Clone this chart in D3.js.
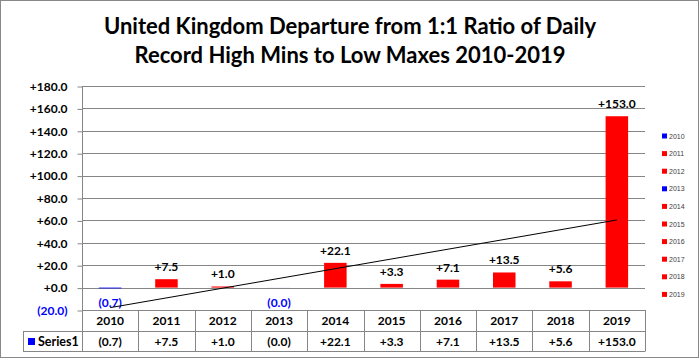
<!DOCTYPE html>
<html><head><meta charset="utf-8">
<script src="https://cdn.jsdelivr.net/npm/d3@7"></script>
<style>html,body{margin:0;padding:0;background:#fff;}svg{display:block;}</style>
</head><body>
<svg id="chart" width="700" height="359"></svg>
<script>
const categories = ["2010","2011","2012","2013","2014","2015","2016","2017","2018","2019"];
const values = [-0.7, 7.5, 1.0, -0.04, 22.1, 3.3, 7.1, 13.5, 5.6, 153.0];
const yTicks = [-20, 0, 20, 40, 60, 80, 100, 120, 140, 160, 180];
const seriesName = "Series1";
const titleLines = ["United Kingdom Departure from 1:1 Ratio of Daily", "Record High Mins to Low Maxes 2010-2019"];

(function(){
const RED = "#FF0000", BLUE = "#0000FF", GRID = "#868686";
const fmt = v => (v < 0 ? "(" + Math.abs(v).toFixed(1) + ")" : "+" + v.toFixed(1));
const isNeg = v => v < 0;
const FONT = "Lato, 'Open Sans', sans-serif";

const svg = d3.select("#chart");
svg.append("rect").attr("x",0.5).attr("y",0.5).attr("width",698).attr("height",357)
  .attr("fill","#fff").attr("stroke","#888").attr("stroke-width",1);

// Title
svg.append("g").selectAll("text").data(titleLines).join("text")
  .attr("x", 350).attr("y", (d,i) => 33.5 + i*29.5)
  .attr("text-anchor","middle").attr("font-family",FONT).attr("font-weight","bold")
  .attr("font-size",22).attr("fill","#000").text(d => d);

const pL = 82, pR = 645, pT = 86, pB = 310;
const x = d3.scaleBand().domain(categories).range([pL, pR]).padding(0);
const y = d3.scaleLinear().domain([-20, 180]).range([pB, pT]);

// gridlines
svg.append("g").selectAll("line").data(yTicks).join("line")
  .attr("x1", pL).attr("x2", pR)
  .attr("y1", d => Math.round(y(d)) + 0.5).attr("y2", d => Math.round(y(d)) + 0.5)
  .attr("stroke", GRID).attr("stroke-width", 1);

// y axis
const yAxis = d3.axisLeft(y).tickValues(yTicks).tickSize(5).tickPadding(10).tickFormat(fmt);
const gy = svg.append("g").attr("transform", `translate(${pL + 0.5},0.5)`).call(yAxis);
gy.select(".domain").attr("stroke", GRID).attr("d", `M0,${pT}V${pB + 41}`);
gy.selectAll(".tick line").attr("stroke", GRID);
gy.selectAll(".tick text").attr("font-family", FONT).attr("font-weight", "bold").attr("font-size", 12)
  .attr("fill", d => isNeg(d) ? BLUE : "#000");

// bars
const bw = x.bandwidth() * 0.4;
svg.append("g").selectAll("rect").data(categories).join("rect")
  .attr("x", d => x(d) + (x.bandwidth() - bw) / 2)
  .attr("width", bw)
  .attr("y", (d,i) => Math.min(y(values[i]), y(0)))
  .attr("height", (d,i) => Math.abs(y(values[i]) - y(0)))
  .attr("fill", (d,i) => isNeg(values[i]) ? BLUE : RED);

// data labels
svg.append("g").selectAll("text").data(categories).join("text")
  .attr("x", d => x(d) + x.bandwidth()/2)
  .attr("y", (d,i) => isNeg(values[i]) ? y(values[i]) + 19 : y(values[i]) - 8)
  .attr("text-anchor","middle").attr("font-family",FONT).attr("font-weight","bold").attr("font-size",12)
  .attr("fill", (d,i) => isNeg(values[i]) ? BLUE : "#000")
  .text((d,i) => fmt(values[i]));

// trendline (linear regression)
const n = values.length;
const xs = d3.range(1, n + 1);
const mx = d3.mean(xs), my = d3.mean(values);
const slope = d3.sum(xs, (v,i) => (v - mx) * (values[i] - my)) / d3.sum(xs, v => (v - mx) ** 2);
const icpt = my - slope * mx;
const trend = [0, n - 1].map(i => [x(categories[i]) + x.bandwidth()/2, y(icpt + slope * (i + 1))]);
svg.append("path").attr("d", d3.line()(trend)).attr("stroke","#000").attr("stroke-width",1).attr("fill","none");

// data table
const row1 = 310, row2 = 331, row3 = 351, tLeft = 23;
const tg = svg.append("g").attr("stroke", GRID).attr("stroke-width", 1);
[row2, row3].forEach(r => tg.append("line").attr("x1", tLeft).attr("x2", pR).attr("y1", r + 0.5).attr("y2", r + 0.5));
categories.concat(["end"]).forEach((c, i) => {
  const xx = i < n ? x(c) : pR;
  tg.append("line").attr("x1", Math.round(xx) + 0.5).attr("x2", Math.round(xx) + 0.5).attr("y1", row1).attr("y2", row3 + 0.5);
});
tg.append("line").attr("x1", tLeft + 0.5).attr("x2", tLeft + 0.5).attr("y1", row2).attr("y2", row3 + 0.5);

svg.append("g").selectAll("text").data(categories).join("text")
  .attr("x", d => x(d) + x.bandwidth()/2).attr("y", row1 + 15)
  .attr("text-anchor","middle").attr("font-family",FONT).attr("font-weight","bold").attr("font-size",12)
  .attr("fill","#000").text(d => d);
svg.append("g").selectAll("text").data(categories).join("text")
  .attr("x", d => x(d) + x.bandwidth()/2).attr("y", row2 + 15)
  .attr("text-anchor","middle").attr("font-family",FONT).attr("font-weight","bold").attr("font-size",12)
  .attr("fill","#000").text((d,i) => fmt(values[i]));
svg.append("rect").attr("x", 28).attr("y", 338).attr("width", 7).attr("height", 7).attr("fill", BLUE);
svg.append("text").attr("x", 38).attr("y", row2 + 15).attr("font-family",FONT).attr("font-weight","bold")
  .attr("font-size",12.5).attr("fill","#000").text(seriesName);

// right legend
const lg = svg.append("g").selectAll("g").data(categories).join("g")
  .attr("transform", (d,i) => `translate(662,${136 + i*17.6})`);
lg.append("rect").attr("x",0).attr("y",-2.5).attr("width",5).attr("height",5)
  .attr("fill", (d,i) => isNeg(values[i]) ? BLUE : RED);
lg.append("text").attr("x",7).attr("y",2.5).attr("font-family","'Liberation Sans', Arial, sans-serif")
  .attr("font-size",7).attr("fill","#404040").text(d => d);
})();
</script>
</body></html>
